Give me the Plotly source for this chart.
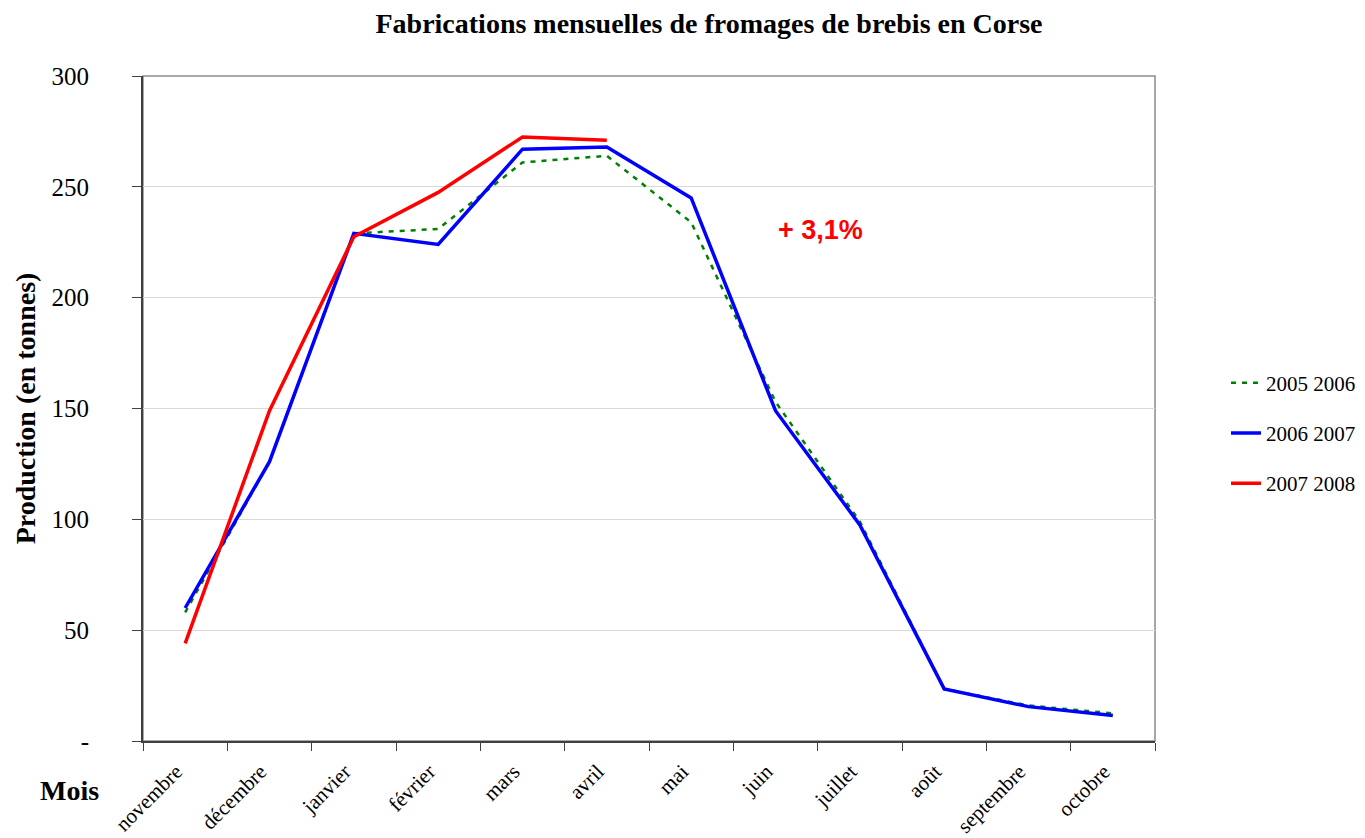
import plotly.graph_objects as go

months = ["novembre", "décembre", "janvier", "février", "mars", "avril",
          "mai", "juin", "juillet", "août", "septembre", "octobre"]
s_2005_2006 = [58, 126, 229, 231, 261, 264, 234, 153, 99, 23.5, 16, 12.5]
s_2006_2007 = [60, 126, 229, 224, 267, 268, 245, 149, 97.5, 23.5, 15.5, 11.5]
s_2007_2008 = [44, 149, 227.5, 247.5, 272.5, 271]
ytick_vals = [0, 50, 100, 150, 200, 250, 300]
ytick_text = ["-", "50", "100", "150", "200", "250", "300"]

SERIF = "Liberation Serif, Times New Roman, serif"

fig = go.Figure()
fig.add_trace(go.Scatter(x=months, y=s_2005_2006, mode="lines", name="2005 2006",
                         line=dict(color="#008000", width=2.5, dash="5px,6px"), legendgroup="a"))
fig.add_trace(go.Scatter(x=months, y=s_2006_2007, mode="lines", name="2006 2007",
                         line=dict(color="#0000ff", width=3.5), legendgroup="b"))
fig.add_trace(go.Scatter(x=months[:len(s_2007_2008)], y=s_2007_2008, mode="lines", name="2007 2008",
                         line=dict(color="#ff0000", width=3.5), legendgroup="c"))

# page body has an 8px margin -> figure 1357x830 at page offset (8,8)
# plot area target in page px = [143,1155] x [76,741]
W, H = 1357, 830
fig.update_layout(
    width=W, height=H,
    margin=dict(l=135, r=210, t=68, b=97, autoexpand=False),
    paper_bgcolor="white", plot_bgcolor="white",
    font=dict(family=SERIF, color="black", size=18),
    title=dict(text="<b>Fabrications mensuelles de fromages de brebis en Corse</b>",
               x=701 / W, xanchor="center", y=1 - 15 / H, yanchor="middle",
               font=dict(family=SERIF, size=28, color="black")),
    showlegend=True,
    legend=dict(xref="container", yref="container", x=1218 / W, xanchor="left",
                y=1 - 425 / H, yanchor="middle",
                font=dict(family=SERIF, size=21, color="black"),
                tracegroupgap=20, bgcolor="rgba(0,0,0,0)"),
    xaxis=dict(type="category", range=[-0.5, 11.5], showgrid=False, automargin=False,
               showline=True, linecolor="#404040", linewidth=2,
               ticks="outside", tickson="boundaries", ticklen=8, tickcolor="#404040",
               tickangle=-45, ticklabelstandoff=8, ticklabelshift=-9,
               tickfont=dict(family=SERIF, size=21, color="black")),
    yaxis=dict(range=[0, 300], tickvals=ytick_vals, ticktext=ytick_text, automargin=False,
               showgrid=True, gridcolor="#d9d9d9", gridwidth=1, zeroline=False,
               showline=True, linecolor="#404040", linewidth=2,
               ticks="outside", ticklen=9, tickcolor="#404040", ticklabelstandoff=38,
               tickfont=dict(family=SERIF, size=25, color="black"),
               title=dict(text="<b>Production (en tonnes)</b>", standoff=8,
                          font=dict(family=SERIF, size=28, color="black"))),
    shapes=[dict(type="rect", xref="paper", yref="paper", x0=0, x1=1, y0=0, y1=1,
                 line=dict(color="#8c8c8c", width=1.5), layer="below")],
    annotations=[
        dict(text="<b>+ 3,1%</b>", x=7.53, y=230.5, xref="x", yref="y", showarrow=False,
             font=dict(family="Liberation Sans, Arial, sans-serif", size=27, color="#ff0000")),
        dict(text="<b>Mois</b>", x=(69 - 143) / 1012, y=(741 - 790) / 665,
             xref="paper", yref="paper", showarrow=False, xanchor="center", yanchor="middle",
             font=dict(family=SERIF, size=28, color="black")),
    ],
)

fig.write_html("out.html")
